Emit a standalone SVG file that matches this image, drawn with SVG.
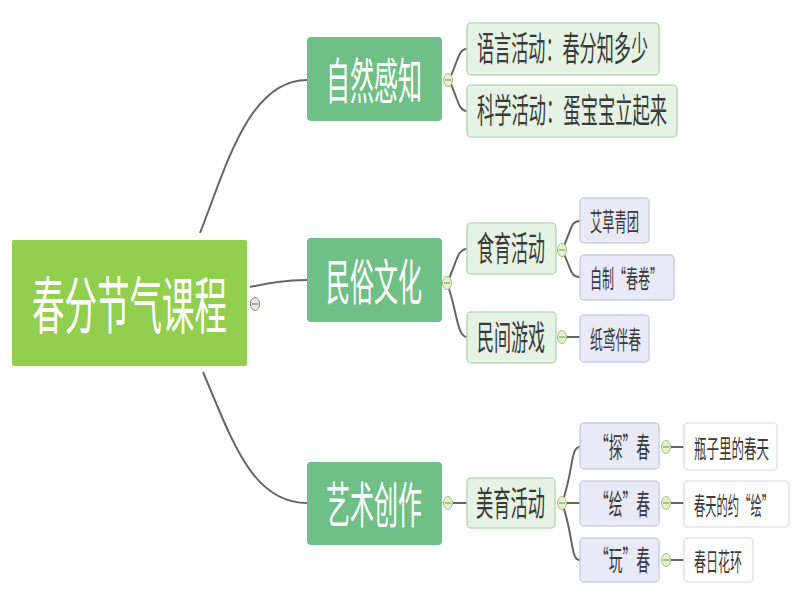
<svg xmlns="http://www.w3.org/2000/svg" width="800" height="600" viewBox="0 0 800 600">
<style>
text{font-family:"Noto Sans CJK SC","Noto Sans",sans-serif;}
.root{fill:#92cf4f;}
.l1{fill:#70bf87;}
.l2{fill:#e5f3e4;stroke:#b9d9b8;stroke-width:1.5;}
.l3{fill:#e9e9f7;stroke:#cdcde3;stroke-width:1.5;}
.leaf{fill:#ffffff;stroke:#e2e2e2;stroke-width:1.5;}
.wt{fill:#ffffff;}
.dk{fill:#3a3a3a;}
.con path{fill:none;stroke:#666666;stroke-width:2;}
.tog ellipse{fill:#e6f2cf;stroke:#9cc27a;stroke-width:1;}
.tog line{stroke:#6e8f55;stroke-width:1;}
</style>
<rect width="800" height="600" fill="#ffffff"/>
<g id="connectors" class="con">
<path d="M200,233 C225,170 248,80 307,80"/>
<path d="M250,287 C270,283 285,280 307,280"/>
<path d="M203,372 C232,440 252,503 307,503"/>
<path d="M449,80 C458,62 458,49 467,49"/>
<path d="M449,80 C458,98 458,111 467,111"/>
<path d="M447,283 C457,262 457,249 467,249"/>
<path d="M447,283 C457,310 457,337 467,337"/>
<path d="M449,503 L467,503"/>
<path d="M562,250 C572,230 570,221 580,221"/>
<path d="M562,250 C572,270 570,277 580,277"/>
<path d="M562,337 L580,337"/>
<path d="M562,503 C574,470 570,447 580,447"/>
<path d="M562,503 L580,503"/>
<path d="M562,503 C574,536 570,560 580,560"/>
<path d="M666,447 L684,447"/>
<path d="M666,503 L684,503"/>
<path d="M666,560 L684,560"/>
</g>
<g id="toggles" class="tog">
<g><ellipse cx="255" cy="304" rx="4.5" ry="6.5" style="fill:#e8e8e0;stroke:#8a8a80"/><line x1="252" y1="304" x2="258" y2="304" style="stroke:#666"/></g>
<g><ellipse cx="448" cy="80" rx="4.5" ry="6.5"/><line x1="445" y1="80" x2="451" y2="80"/></g>
<g><ellipse cx="447" cy="283" rx="4.5" ry="6.5"/><line x1="444" y1="283" x2="450" y2="283"/></g>
<g><ellipse cx="448" cy="503" rx="4.5" ry="6.5"/><line x1="445" y1="503" x2="451" y2="503"/></g>
<g><ellipse cx="562" cy="250" rx="4.5" ry="6.5"/><line x1="559" y1="250" x2="565" y2="250"/></g>
<g><ellipse cx="562" cy="337" rx="4.5" ry="6.5"/><line x1="559" y1="337" x2="565" y2="337"/></g>
<g><ellipse cx="562" cy="503" rx="4.5" ry="6.5"/><line x1="559" y1="503" x2="565" y2="503"/></g>
<g><ellipse cx="666" cy="447" rx="4.5" ry="6.5"/><line x1="663" y1="447" x2="669" y2="447"/></g>
<g><ellipse cx="666" cy="503" rx="4.5" ry="6.5"/><line x1="663" y1="503" x2="669" y2="503"/></g>
<g><ellipse cx="666" cy="560" rx="4.5" ry="6.5"/><line x1="663" y1="560" x2="669" y2="560"/></g>
</g>
<g id="n-root"><rect class="root" x="12" y="240" width="235" height="126" rx="2"/><text class="wt" transform="translate(32,329) scale(0.524,1)" font-size="62" textLength="372" lengthAdjust="spacingAndGlyphs">春分节气课程</text></g>
<g id="n-ziran"><rect class="l1" x="307" y="37" width="135" height="84" rx="4"/><text class="wt" transform="translate(326,99) scale(0.5,1)" font-size="49" textLength="192" lengthAdjust="spacingAndGlyphs">自然感知</text></g>
<g id="n-minsu"><rect class="l1" x="307" y="238" width="135" height="84" rx="4"/><text class="wt" transform="translate(326,300) scale(0.5,1)" font-size="49" textLength="192" lengthAdjust="spacingAndGlyphs">民俗文化</text></g>
<g id="n-yishu"><rect class="l1" x="307" y="462" width="135" height="83" rx="4"/><text class="wt" transform="translate(326,523) scale(0.5,1)" font-size="49" textLength="192" lengthAdjust="spacingAndGlyphs">艺术创作</text></g>
<g id="n-yuyan"><rect class="l2" x="467" y="23" width="192" height="52" rx="4"/><text class="dk" transform="translate(477,61) scale(0.5,1)" font-size="34" textLength="342" lengthAdjust="spacingAndGlyphs">语言活动：春分知多少</text></g>
<g id="n-kexue"><rect class="l2" x="467" y="85" width="210" height="52" rx="4"/><text class="dk" transform="translate(477,123) scale(0.5,1)" font-size="34" textLength="380" lengthAdjust="spacingAndGlyphs">科学活动：蛋宝宝立起来</text></g>
<g id="n-shiyu"><rect class="l2" x="467" y="223" width="89" height="51" rx="4"/><text class="dk" transform="translate(477,261) scale(0.5,1)" font-size="34" textLength="136" lengthAdjust="spacingAndGlyphs">食育活动</text></g>
<g id="n-minjian"><rect class="l2" x="467" y="312" width="89" height="51" rx="4"/><text class="dk" transform="translate(477,350) scale(0.5,1)" font-size="34" textLength="136" lengthAdjust="spacingAndGlyphs">民间游戏</text></g>
<g id="n-meiyu"><rect class="l2" x="467" y="478" width="88" height="50" rx="4"/><text class="dk" transform="translate(476,516) scale(0.5,1)" font-size="34" textLength="138" lengthAdjust="spacingAndGlyphs">美育活动</text></g>
<g id="n-aicao"><rect class="l3" x="580" y="198" width="69" height="45" rx="4"/><text class="dk" transform="translate(590,231) scale(0.5,1)" font-size="25" textLength="98" lengthAdjust="spacingAndGlyphs">艾草青团</text></g>
<g id="n-chunjuan"><rect class="l3" x="580" y="255" width="94" height="45" rx="4"/><text class="dk" transform="translate(590,288) scale(0.5,1)" font-size="25" textLength="144" lengthAdjust="spacingAndGlyphs">自制“春卷”</text></g>
<g id="n-zhiyuan"><rect class="l3" x="580" y="315" width="69" height="47" rx="4"/><text class="dk" transform="translate(590,349) scale(0.5,1)" font-size="25" textLength="102" lengthAdjust="spacingAndGlyphs">纸鸢伴春</text></g>
<g id="n-tan"><rect class="l3" x="580" y="423" width="79" height="46" rx="4"/><text class="dk" transform="translate(595,458) scale(0.5,1)" font-size="28" textLength="110" lengthAdjust="spacingAndGlyphs">“探”春</text></g>
<g id="n-hui"><rect class="l3" x="580" y="481" width="79" height="45" rx="4"/><text class="dk" transform="translate(595,515) scale(0.5,1)" font-size="28" textLength="110" lengthAdjust="spacingAndGlyphs">“绘”春</text></g>
<g id="n-wan"><rect class="l3" x="580" y="538" width="79" height="44" rx="4"/><text class="dk" transform="translate(595,571) scale(0.5,1)" font-size="28" textLength="110" lengthAdjust="spacingAndGlyphs">“玩”春</text></g>
<g id="n-pingzi"><rect class="leaf" x="684" y="423" width="93" height="47" rx="4"/><text class="dk" transform="translate(694,458) scale(0.5,1)" font-size="25" textLength="150" lengthAdjust="spacingAndGlyphs">瓶子里的春天</text></g>
<g id="n-yuehui"><rect class="leaf" x="684" y="481" width="105" height="46" rx="4"/><text class="dk" transform="translate(694,515) scale(0.5,1)" font-size="25" textLength="158" lengthAdjust="spacingAndGlyphs">春天的约“绘”</text></g>
<g id="n-huahuan"><rect class="leaf" x="684" y="538" width="69" height="44" rx="4"/><text class="dk" transform="translate(694,571) scale(0.5,1)" font-size="25" textLength="96" lengthAdjust="spacingAndGlyphs">春日花环</text></g>
</svg>
